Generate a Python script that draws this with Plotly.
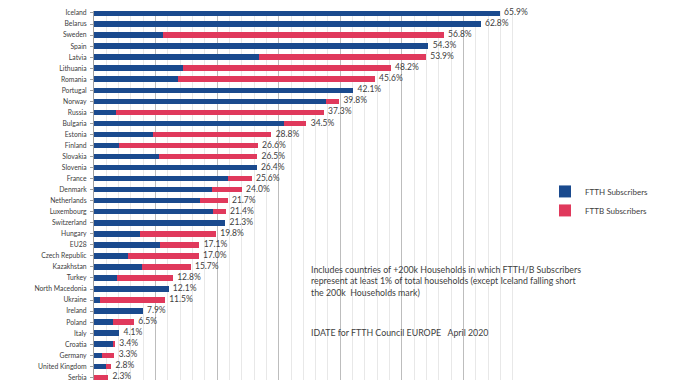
import plotly.graph_objects as go

countries = ["Iceland", "Belarus", "Sweden", "Spain", "Latvia", "Lithuania", "Romania",
             "Portugal", "Norway", "Russia", "Bulgaria", "Estonia", "Finland", "Slovakia",
             "Slovenia", "France", "Denmark", "Netherlands", "Luxembourg", "Switzerland",
             "Hungary", "EU28", "Czech Republic", "Kazakhstan", "Turkey", "North Macedonia",
             "Ukraine", "Ireland", "Poland", "Italy", "Croatia", "Germany", "United Kingdom",
             "Serbia"]
ftth = [65.9, 62.8, 11.2, 54.3, 26.8, 14.4, 13.6, 42.1, 37.7, 3.6, 30.9, 9.6, 4.0, 10.5,
        26.4, 21.7, 19.1, 17.2, 19.4, 21.3, 7.4, 10.7, 5.5, 7.8, 3.8, 12.1, 1.0, 7.9, 3.1,
        4.1, 3.1, 1.3, 2.0, 0.0]
fttb = [0.0, 0.0, 45.6, 0.0, 27.1, 33.8, 32.0, 0.0, 2.1, 33.7, 3.6, 19.2, 22.6, 16.0,
        0.0, 3.9, 4.9, 4.5, 2.0, 0.0, 12.4, 6.4, 11.5, 7.9, 9.0, 0.0, 10.5, 0.0, 3.4,
        0.0, 0.3, 2.0, 0.8, 2.3]
totals = [65.9, 62.8, 56.8, 54.3, 53.9, 48.2, 45.6, 42.1, 39.8, 37.3, 34.5, 28.8, 26.6,
          26.5, 26.4, 25.6, 24.0, 21.7, 21.4, 21.3, 19.8, 17.1, 17.0, 15.7, 12.8, 12.1,
          11.5, 7.9, 6.5, 4.1, 3.4, 3.3, 2.8, 2.3]
total_labels = ["\u00a0\u00a0" + f"{v:.1f}%" for v in totals]

BLUE = "#1a4a8e"
RED = "#e0395c"
TXT = "#404040"

# page has an 8px body margin: figure is sized so the visible window matches
W, H = 670, 373
L, R = 86, 153
PW = W - L - R

fig = go.Figure()
fig.add_trace(go.Bar(y=countries, x=ftth, orientation="h", name="FTTH Subscribers",
                     marker=dict(color=BLUE, line=dict(width=0)), width=0.5))
fig.add_trace(go.Bar(y=countries, x=fttb, orientation="h", name="FTTB Subscribers",
                     marker=dict(color=RED, line=dict(width=0)), width=0.5))
fig.add_trace(go.Scatter(y=countries, x=totals, mode="text", text=total_labels,
                         textposition="middle right",
                         textfont=dict(family="Lato", size=8.5, color=TXT),
                         showlegend=False, hoverinfo="skip", cliponaxis=False))

fig.update_layout(
    width=W, height=H,
    margin=dict(l=L, r=R, t=0, b=0),
    barmode="stack",
    plot_bgcolor="white", paper_bgcolor="white",
    font=dict(family="Lato", color=TXT),
    legend=dict(x=(545 - 8 - L) / PW, y=1 - (200 - 8) / H, xanchor="left", yanchor="middle",
                font=dict(family="Lato", size=8, color=TXT), traceorder="normal",
                itemwidth=30, tracegroupgap=0, bgcolor="rgba(0,0,0,0)"),
    xaxis=dict(range=[0, 70], showticklabels=False, ticks="",
               showgrid=True, gridcolor="#bdbdbd", gridwidth=1, dtick=10,
               minor=dict(dtick=2, showgrid=True, gridcolor="#e8e8e8", gridwidth=1),
               zeroline=False, showline=False),
    yaxis=dict(categoryorder="array", categoryarray=countries,
               range=[33.24, -0.18], showgrid=False, zeroline=False,
               showline=True, linecolor="#a0a0a0", linewidth=1,
               ticks="outside", ticklen=3, tickcolor="#a0a0a0",
               tickfont=dict(family="Lato", size=6.8, color=TXT), ticklabelstandoff=2),
    annotations=[
        dict(xref="paper", yref="paper", x=(309 - 8 - L) / PW, y=1 - (262 - 8) / H,
             xanchor="left", yanchor="top", align="left", showarrow=False,
             text="Includes countries of +200k Households in which FTTH/B Subscribers<br>"
                  "represent at least 1% of total households (except Iceland falling short<br>"
                  "the 200k  Households mark)",
             font=dict(family="Lato", size=8.8, color=TXT)),
        dict(xref="paper", yref="paper", x=(309 - 8 - L) / PW, y=1 - (333 - 8) / H,
             xanchor="left", yanchor="middle", align="left", showarrow=False,
             text="IDATE for FTTH Council EUROPE   April 2020",
             font=dict(family="Lato", size=8.8, color=TXT)),
    ],
)

fig.write_html("out.html")
